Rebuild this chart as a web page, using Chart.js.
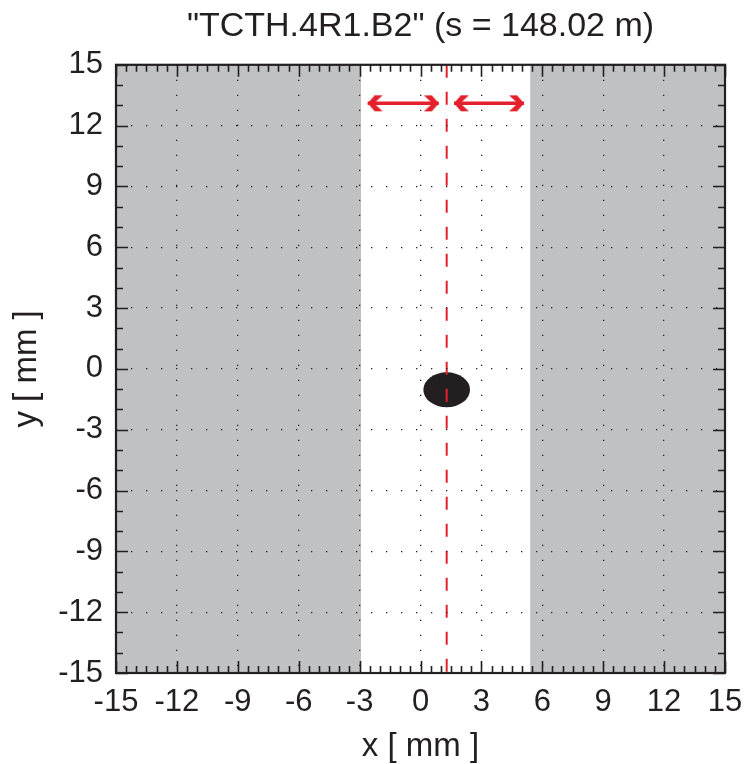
<!DOCTYPE html>
<html>
<head>
<meta charset="utf-8">
<script src="https://cdn.jsdelivr.net/npm/chart.js@4.4.0/dist/chart.umd.min.js"></script>
<style>
  html, body { margin: 0; padding: 0; background: #fff; }
  #wrap { width: 746px; height: 764px; }
</style>
</head>
<body>
<div id="wrap"><canvas id="chart" width="746" height="764"></canvas></div>
<script>
// values
const titleText = '"TCTH.4R1.B2" (s = 148.02 m)';
const axisMin = -15;
const axisMax = 15;
const tickStep = 3;
const jawLeft = [-15, -2.93];      // gray band x range (collimator jaw)
const jawRight = [5.4, 15];
const orbitX = 1.29;               // red dashed line
const beamCenter = [1.29, -1.03];
const beamHalfSize = [1.15, 0.86];
const arrowY = 13.1;
const arrowLeft = [-2.6, 0.9];
const arrowRight = [1.65, 5.1];

const INK = '#231f20';
const RED = '#e3202b';
const GRAY = '#c0c1c3';
const FONT = '"Liberation Sans", Arial, Helvetica, sans-serif';

function makeArrowHead() {
    // tip sits at the canvas centre, head body to the left
    const c = document.createElement('canvas');
    c.width = 36;
    c.height = 18;
    const g = c.getContext('2d');
    g.fillStyle = RED;
    g.beginPath();
    g.moveTo(18, 9);
    g.lineTo(11, 1);
    g.lineTo(3, 1);
    g.lineTo(10, 7.5);
    g.lineTo(10, 10.5);
    g.lineTo(3, 17);
    g.lineTo(11, 17);
    g.closePath();
    g.fill();
    return c;
}
const arrowHead = makeArrowHead();

function bandData(range) {
    return [{x: range[0], y: axisMax}, {x: range[1], y: axisMax}];
}

function arrowData(range) {
    return [{x: range[0], y: arrowY}, {x: range[1], y: arrowY}];
}

// beam ellipse, sized in axis units
const beamPlugin = {
    id: 'beam',
    beforeDatasetsDraw(chart) {
        const xs = chart.scales.x, ys = chart.scales.y;
        const cx = xs.getPixelForValue(beamCenter[0]);
        const cy = ys.getPixelForValue(beamCenter[1]);
        const rx = Math.abs(xs.getPixelForValue(beamCenter[0] + beamHalfSize[0]) - cx);
        const ry = Math.abs(ys.getPixelForValue(beamCenter[1] + beamHalfSize[1]) - cy);
        const ctx = chart.ctx;
        ctx.save();
        ctx.fillStyle = INK;
        ctx.beginPath();
        ctx.ellipse(cx, cy, rx, ry, 0, 0, Math.PI * 2);
        ctx.fill();
        ctx.restore();
    }
};

// box frame with inward major/minor ticks on all four sides
const framePlugin = {
    id: 'frame',
    afterDraw(chart) {
        const {left, right, top, bottom} = chart.chartArea;
        const xs = chart.scales.x, ys = chart.scales.y;
        const ctx = chart.ctx;
        ctx.save();
        ctx.strokeStyle = INK;
        ctx.lineWidth = 1.6;
        ctx.beginPath();
        for (let v = axisMin; v <= axisMax + 1e-9; v += 0.5) {
            const px = Math.round(xs.getPixelForValue(v)) + 0.5;
            const len = Math.abs(v % tickStep) < 1e-9 ? 12 : 7;
            ctx.moveTo(px, bottom); ctx.lineTo(px, bottom - len);
            ctx.moveTo(px, top); ctx.lineTo(px, top + len);
        }
        for (let v = axisMin; v <= axisMax + 1e-9; v += 1) {
            const py = Math.round(ys.getPixelForValue(v)) + 0.5;
            const len = Math.abs(v % tickStep) < 1e-9 ? 12 : 7;
            ctx.moveTo(left, py); ctx.lineTo(left + len, py);
            ctx.moveTo(right, py); ctx.lineTo(right - len, py);
        }
        ctx.stroke();
        ctx.lineWidth = 2.2;
        ctx.strokeRect(left, top, right - left, bottom - top);
        ctx.restore();
    }
};

const tickFont = {family: FONT, size: 31};

new Chart(document.getElementById('chart'), {
    type: 'line',
    data: {
        datasets: [
            {
                data: bandData(jawLeft),
                fill: {value: axisMin},
                backgroundColor: GRAY,
                borderWidth: 0,
                pointRadius: 0
            },
            {
                data: bandData(jawRight),
                fill: {value: axisMin},
                backgroundColor: GRAY,
                borderWidth: 0,
                pointRadius: 0
            },
            {
                data: [{x: orbitX, y: axisMax}, {x: orbitX, y: axisMin}],
                borderColor: RED,
                borderWidth: 2,
                borderDash: [13, 14],
                fill: false,
                pointRadius: 0
            },
            {
                data: arrowData(arrowLeft),
                borderColor: RED,
                borderWidth: 3.5,
                fill: false,
                pointStyle: arrowHead,
                pointRotation: [180, 0],
                pointRadius: 8
            },
            {
                data: arrowData(arrowRight),
                borderColor: RED,
                borderWidth: 3.5,
                fill: false,
                pointStyle: arrowHead,
                pointRotation: [180, 0],
                pointRadius: 8
            }
        ]
    },
    options: {
        responsive: false,
        animation: false,
        events: [],
        layout: {padding: {left: 0, right: 21, top: 0, bottom: 0}},
        plugins: {
            legend: {display: false},
            tooltip: {enabled: false},
            title: {
                display: true,
                fullSize: false,
                text: titleText,
                color: INK,
                font: {family: FONT, size: 34, weight: 'normal', lineHeight: 1.2},
                padding: {top: 6, bottom: 18}
            }
        },
        scales: {
            x: {
                type: 'linear',
                min: axisMin,
                max: axisMax,
                afterFit(scale) {
                    scale.height = 91;
                    scale.paddingLeft = 0;
                    scale.paddingRight = 0;
                },
                ticks: {
                    stepSize: tickStep,
                    autoSkip: false,
                    maxRotation: 0,
                    padding: 11,
                    color: INK,
                    font: tickFont
                },
                grid: {color: INK, lineWidth: 1.3, drawTicks: false, z: 1},
                border: {display: false, dash: [1.3, 13.7]},
                title: {
                    display: true,
                    text: 'x [ mm ]',
                    color: INK,
                    font: {family: FONT, size: 33, lineHeight: 1},
                    padding: {top: 0, bottom: 1}
                }
            },
            y: {
                type: 'linear',
                min: axisMin,
                max: axisMax,
                afterFit(scale) { scale.width = 116; },
                ticks: {
                    stepSize: tickStep,
                    autoSkip: false,
                    padding: 13,
                    color: INK,
                    font: tickFont
                },
                grid: {color: INK, lineWidth: 1.3, drawTicks: false, z: 1},
                border: {display: false, dash: [1.3, 13.7]},
                title: {
                    display: true,
                    text: 'y [ mm ]',
                    color: INK,
                    font: {family: FONT, size: 33, lineHeight: 1},
                    padding: {top: 10, bottom: 0}
                }
            }
        }
    },
    plugins: [beamPlugin, framePlugin]
});
</script>
</body>
</html>
